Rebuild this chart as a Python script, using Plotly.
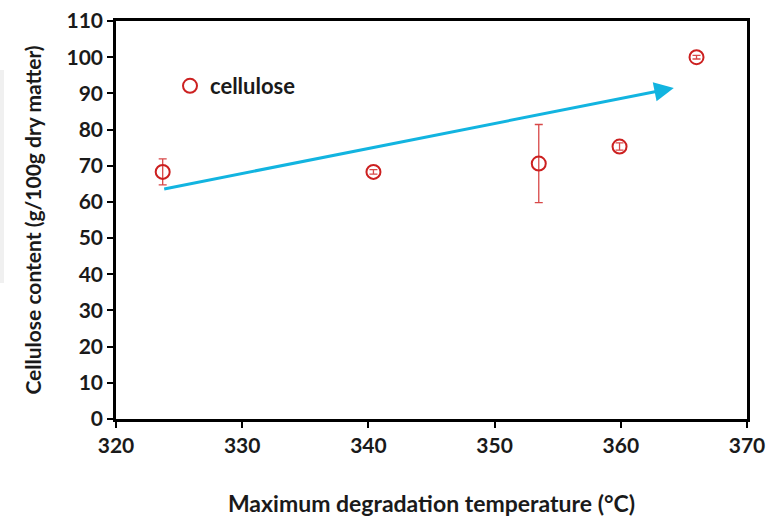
import plotly.graph_objects as go

# Data
temps = [323.7, 340.4, 353.5, 359.9, 366.0]
cellulose = [68.3, 68.3, 70.6, 75.3, 100.0]
err = [3.6, 0.6, 10.8, 1.0, 0.5]

# Trend arrow (start -> end), in data units
arrow_start = (323.7, 63.5)
arrow_end = (364.2, 91.5)

x_ticks = [320, 330, 340, 350, 360, 370]
y_ticks = list(range(0, 111, 10))

FONT = "Lato"
W, H = 774, 519
L, R, T, B = 116, 27, 21, 100

fig = go.Figure()
fig.add_trace(go.Scatter(
    x=temps, y=cellulose, mode="markers", name="cellulose",
    marker=dict(symbol="circle-open", size=14, color="#CC2020",
                line=dict(width=2, color="#CC2020")),
    error_y=dict(type="data", array=err, visible=True, color="#D84848",
                 thickness=1.3, width=4),
))

fig.add_annotation(
    x=arrow_end[0], y=arrow_end[1], ax=arrow_start[0], ay=arrow_start[1],
    xref="x", yref="y", axref="x", ayref="y", text="", showarrow=True,
    arrowhead=2, arrowsize=1.3, arrowwidth=3, arrowcolor="#12B4E0",
)

pw = W - L - R
ph = H - T - B
fig.add_shape(type="rect", xref="paper", yref="paper",
              x0=(0 - L) / pw, x1=(4 - L) / pw,
              y0=(H - B - 283) / ph, y1=(H - B - 70) / ph,
              fillcolor="#F0F0F0", line=dict(width=0), layer="below")

axis_common = dict(
    showgrid=False, zeroline=False, showline=True, linecolor="black",
    linewidth=2.5, mirror=True, ticks="outside", ticklen=6, tickwidth=2,
    tickcolor="black", automargin=False,
    tickfont=dict(family=FONT, size=21, color="#1a1a1a", weight="bold"),
)

fig.update_layout(
    width=W, height=H,
    margin=dict(l=L, r=R, t=T, b=B),
    paper_bgcolor="white", plot_bgcolor="white",
    showlegend=True,
    legend=dict(x=(170 - L) / pw, y=(H - B - 86) / ph, xanchor="left",
                yanchor="middle", bgcolor="rgba(0,0,0,0)",
                font=dict(family=FONT, size=22, color="#1a1a1a", weight="bold")),
    xaxis=dict(range=[320, 370], tickvals=x_ticks,
               title=dict(text="Maximum degradation temperature (°C)",
                          font=dict(family=FONT, size=23, color="#1a1a1a", weight="bold"),
                          standoff=40),
               **axis_common),
    yaxis=dict(range=[0, 110], tickvals=y_ticks,
               title=dict(text="Cellulose content (g/100g dry matter)",
                          font=dict(family=FONT, size=21, color="#1a1a1a", weight="bold"),
                          standoff=20),
               **axis_common),
)

fig.write_html("out.html", config={"displayModeBar": False},
               post_script="document.body.style.margin='0';")
